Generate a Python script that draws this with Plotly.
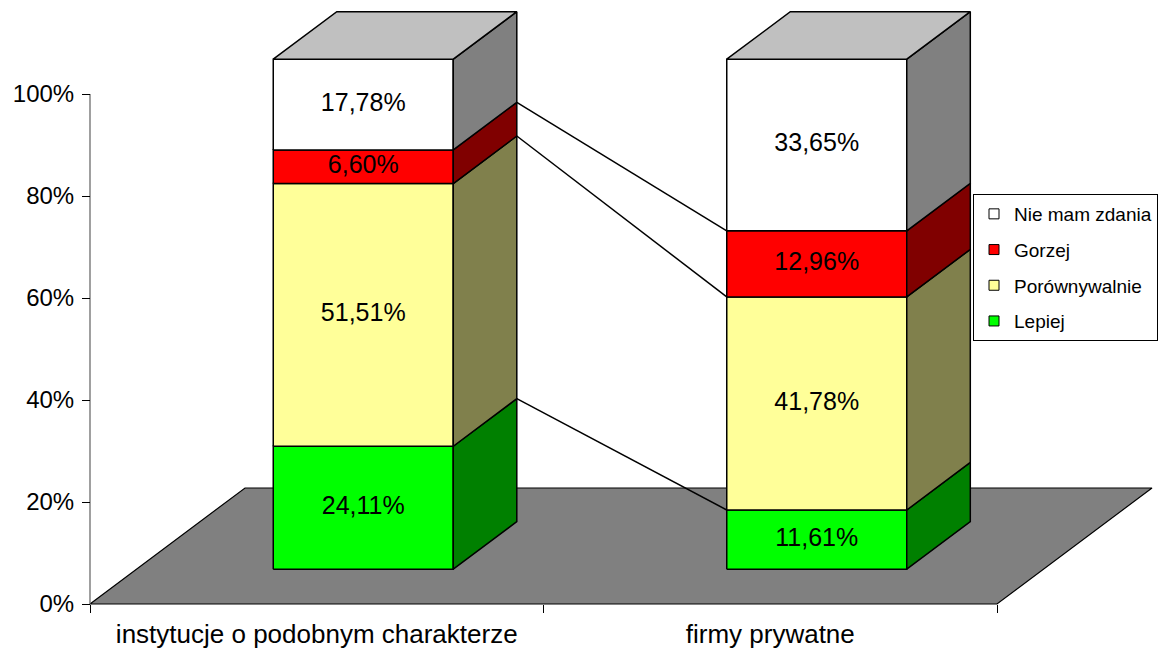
import plotly.graph_objects as go

# ---------------- data ----------------
categories = ["instytucje o podobnym charakterze", "firmy prywatne"]
series_names = ["Lepiej", "Porównywalnie", "Gorzej", "Nie mam zdania"]
lepiej = [24.11, 11.61]
porownywalnie = [51.51, 41.78]
gorzej = [6.60, 12.96]
nie_mam_zdania = [17.78, 33.65]
y_tick_vals = [0, 20, 40, 60, 80, 100]
y_tick_text = ["0%", "20%", "40%", "60%", "80%", "100%"]

series_values = [lepiej, porownywalnie, gorzej, nie_mam_zdania]

# ---------------- style ----------------
front_colors = ["#00FF00", "#FFFF99", "#FF0000", "#FFFFFF"]
side_colors = ["#008000", "#80804C", "#800000", "#808080"]
top_color = "#C0C0C0"
floor_color = "#808080"
FONT = "Liberation Sans, Arial, sans-serif"

OFF = 8                       # page body margin
W, H = 1169 - OFF, 649 - OFF
AX_SX, AX_SY = 90, 604        # screen position of axis origin
PX_X = 453.5                  # pixels per category slot
PX_Y = 5.1                    # pixels per percent
AX_PX = 20                    # y axis sits this far right of the plot edge
AX_PY = 10                    # x axis sits this far above the plot bottom
ML = AX_SX - OFF - AX_PX
plot_w = W - ML
plot_h = (AX_SY - OFF) + AX_PY
MB = H - plot_h
x_range = [-0.5 - AX_PX / PX_X, -0.5 + (plot_w - AX_PX) / PX_X]
y_range = [-AX_PY / PX_Y, (AX_SY - OFF) / PX_Y]

DEPTH = (155 / PX_X, 116 / PX_Y)   # floor depth vector in axis units
T_FRONT, T_BACK = 0.30, 0.71       # bar depth position (fraction of floor)
HALF_W = 90 / PX_X                 # half bar width


def P(x, v, t):
    return x + t * DEPTH[0], v + t * DEPTH[1]


def poly(pts, fill, lw=1.5, lc="black"):
    xs = [p[0] for p in pts] + [pts[0][0]]
    ys = [p[1] for p in pts] + [pts[0][1]]
    return go.Scatter(x=xs, y=ys, mode="lines", fill="toself", fillcolor=fill,
                      line=dict(color=lc, width=lw), hoverinfo="skip",
                      showlegend=False)


fig = go.Figure()

# floor
x0, x1 = -0.5, len(categories) - 0.5
fig.add_trace(poly([P(x0, 0, 0), P(x1, 0, 0), P(x1, 0, 1), P(x0, 0, 1)],
                   floor_color, lw=1.2))

# y axis line
fig.add_trace(go.Scatter(x=[x0, x0], y=[0, 100], mode="lines",
                         line=dict(color="#606060", width=1.2),
                         hoverinfo="skip", showlegend=False))

# series lines between the bars
lx, ly = [], []
for k in range(len(series_values) - 1):
    c0 = sum(series_values[j][0] for j in range(k + 1))
    c1 = sum(series_values[j][1] for j in range(k + 1))
    a = P(0 + HALF_W, c0, T_BACK)
    b = P(1 - HALF_W, c1, T_FRONT)
    lx += [a[0], b[0], None]
    ly += [a[1], b[1], None]
fig.add_trace(go.Scatter(x=lx, y=ly, mode="lines",
                         line=dict(color="black", width=1.5),
                         hoverinfo="skip", showlegend=False))

# bars
lab_x, lab_y, lab_t = [], [], []
for i, cat in enumerate(categories):
    base = 0.0
    for k, vals in enumerate(series_values):
        v = vals[i]
        top = base + v
        l, r = i - HALF_W, i + HALF_W
        fig.add_trace(poly([P(l, base, T_FRONT), P(r, base, T_FRONT),
                            P(r, top, T_FRONT), P(l, top, T_FRONT)],
                           front_colors[k]))
        fig.add_trace(poly([P(r, base, T_FRONT), P(r, base, T_BACK),
                            P(r, top, T_BACK), P(r, top, T_FRONT)],
                           side_colors[k]))
        cx, cy = P(i, base + v / 2, T_FRONT)
        lab_x.append(cx)
        lab_y.append(cy)
        lab_t.append(f"{v:.2f}".replace(".", ",") + "%")
        base = top
    l, r = i - HALF_W, i + HALF_W
    fig.add_trace(poly([P(l, base, T_FRONT), P(r, base, T_FRONT),
                        P(r, base, T_BACK), P(l, base, T_BACK)], top_color))

fig.add_trace(go.Scatter(x=lab_x, y=lab_y, mode="text", text=lab_t,
                         textposition="middle center",
                         textfont=dict(family=FONT, size=25, color="black"),
                         hoverinfo="skip", showlegend=False))

# legend entries (top to bottom: Nie mam zdania ... Lepiej)
for k in reversed(range(len(series_names))):
    fig.add_trace(go.Scatter(x=[None], y=[None], mode="markers",
                             name=series_names[k], legendgroup=series_names[k],
                             marker=dict(symbol="square", size=10,
                                         color=front_colors[k],
                                         line=dict(color="black", width=1))))

fig.update_layout(
    width=W, height=H,
    margin=dict(l=ML, r=0, t=0, b=MB, pad=0),
    paper_bgcolor="white", plot_bgcolor="white",
    font=dict(family=FONT, color="black"),
    showlegend=True,
    legend=dict(x=(973 - OFF - ML) / plot_w, y=(plot_h - (194 - OFF)) / plot_h,
                xanchor="left", yanchor="top",
                bgcolor="white", bordercolor="black", borderwidth=1,
                font=dict(family=FONT, size=19, color="black"),
                traceorder="grouped", tracegroupgap=8),
    xaxis=dict(range=x_range, showgrid=False, zeroline=False, showline=False,
               anchor="free", position=AX_PY / plot_h,
               tickmode="array", tickvals=list(range(len(categories))),
               ticktext=categories, ticks="",
               tickfont=dict(family=FONT, size=26, color="black"),
               ticklabelstandoff=12,
               minor=dict(tickmode="array",
                          tickvals=[x0 + j for j in range(len(categories) + 1)],
                          ticks="outside", ticklen=8, tickcolor="black",
                          tickwidth=1, showgrid=False),
               fixedrange=True),
    yaxis=dict(range=y_range, showgrid=False, zeroline=False, showline=False,
               anchor="free", position=AX_PX / plot_w,
               tickmode="array", tickvals=y_tick_vals, ticktext=y_tick_text,
               ticks="outside", ticklen=8, tickcolor="black", tickwidth=1,
               ticklabelstandoff=3,
               tickfont=dict(family=FONT, size=24, color="black"),
               fixedrange=True),
)

fig.write_html("out.html")
